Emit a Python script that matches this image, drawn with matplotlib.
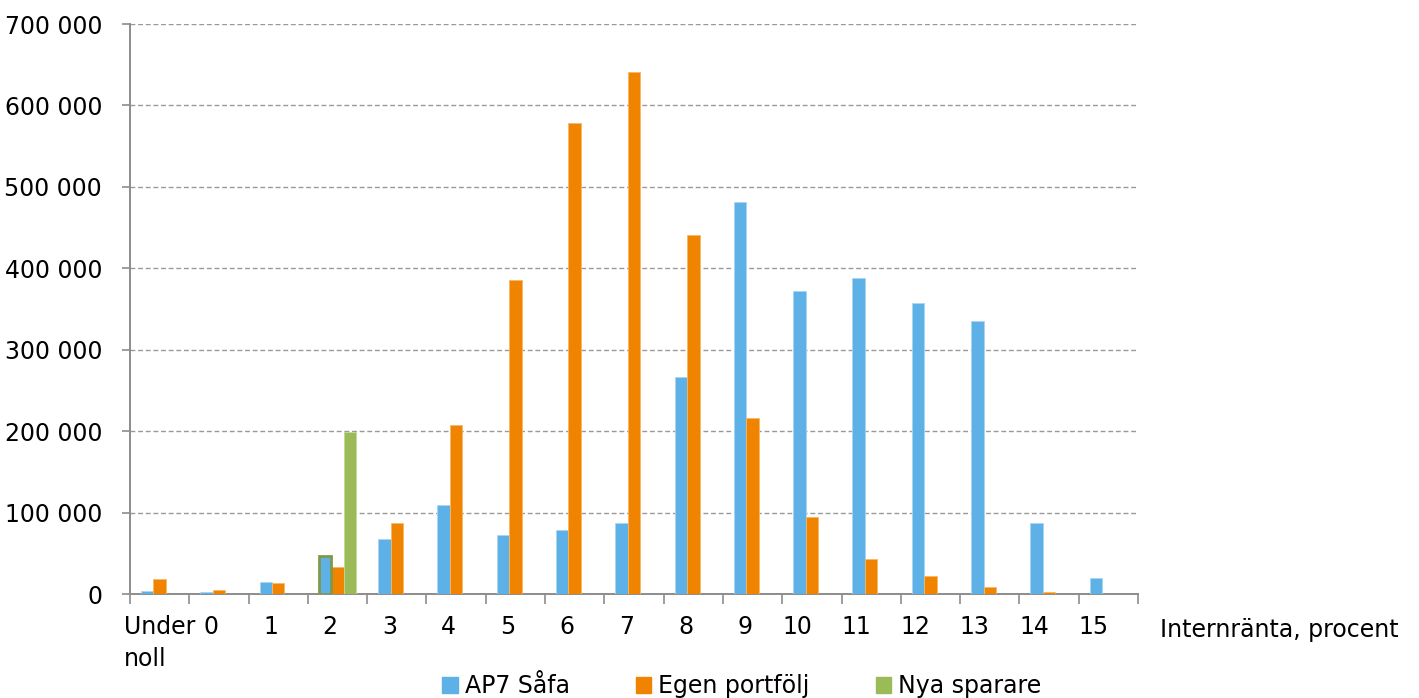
import numpy as np
import matplotlib.pyplot as plt
from matplotlib.patches import Patch
from matplotlib.ticker import FuncFormatter, FixedLocator

# -----------------------------
# Data
# -----------------------------
categories = ["Under\nnoll", "0", "1", "2", "3", "4", "5", "6", "7", "8",
              "9", "10", "11", "12", "13", "14", "15"]
ap7_safa = [4000, 2000, 15000, 47000, 68000, 109000, 73000, 79000, 87000,
            266000, 482000, 372000, 388000, 357000, 335000, 87000, 20000]
egen_portfolj = [18000, 5000, 13000, 33000, 87000, 207000, 386000, 578000,
                 641000, 441000, 216000, 95000, 43000, 22000, 9000, 2000, 0]
nya_sparare = [0, 0, 0, 199000, 0, 0, 0, 0, 0, 0, 0, 0, 0, 0, 0, 0, 0]
series_names = ["AP7 Såfa", "Egen portfölj", "Nya sparare"]

BLUE = "#5EB1E6"
ORANGE = "#F08300"
GREEN = "#9BBB59"
GRAY = "#8C8C8C"

plt.rcParams["font.family"] = ["DejaVu Sans"]
FS = 17

fig = plt.figure(figsize=(14.19, 6.98), dpi=100)
ax = fig.add_axes([130 / 1419, 1 - 594 / 698, (1138 - 130) / 1419, (594 - 24) / 698])

x = np.arange(len(categories))
w = 0.21
ax.bar(x - w, ap7_safa, w, color=BLUE, edgecolor="#A9D5F2", linewidth=0.6, zorder=3)
ax.bar(x, egen_portfolj, w, color=ORANGE, edgecolor="#F6B866", linewidth=0.6, zorder=3)
ax.bar(x + w, nya_sparare, w, color=GREEN, edgecolor="#C3D89A", linewidth=0.6, zorder=3)
# the "2" AP7 bar carries a green outline in the original
ax.bar(x[3] - w, ap7_safa[3], w, color=BLUE, edgecolor="#7F9A48", linewidth=2.0, zorder=4)

ax.set_xlim(-0.5, len(categories) - 0.5)
ax.set_ylim(0, 700000)

# y axis
ax.set_yticks(np.arange(0, 700001, 100000))
ax.yaxis.set_major_formatter(FuncFormatter(lambda v, p: f"{int(v):,}".replace(",", " ")))
ax.tick_params(axis="y", length=6, width=1.2, color=GRAY, pad=14, labelsize=FS)
ax.grid(axis="y", color="#999999", linestyle=(0, (3.5, 2)), linewidth=1.0, zorder=0)

# x axis: labels at centres, tick marks at category borders
ax.xaxis.set_major_locator(FixedLocator(x))
ax.set_xticklabels(categories)
ax.xaxis.set_minor_locator(FixedLocator(np.arange(-0.5, len(categories), 1)))
ax.tick_params(axis="x", which="major", length=0, pad=15, labelsize=FS)
ax.tick_params(axis="x", which="minor", length=7, width=1.2, color=GRAY)
for i, lab in enumerate(ax.get_xticklabels()):
    if i == 0:
        lab.set_ha("center")
        lab.set_multialignment("left")
        lab.set_linespacing(1.45)
    else:
        lab.set_ha("right")

for s in ["top", "right"]:
    ax.spines[s].set_visible(False)
for s in ["left", "bottom"]:
    ax.spines[s].set_color(GRAY)
    ax.spines[s].set_linewidth(1.4)

fig.text(1160 / 1419, 1 - 630 / 698, "Internränta, procent", fontsize=FS,
         ha="left", va="center")

handles = [Patch(color=c) for c in (BLUE, ORANGE, GREEN)]
fig.legend(handles, series_names, loc="center", bbox_to_anchor=(742 / 1419, 1 - 686 / 698),
           ncol=3, frameon=False, fontsize=FS, handlelength=0.65, handleheight=0.65,
           handletextpad=0.3, columnspacing=2.8, borderpad=0)

fig.savefig("out.png", dpi=100)
